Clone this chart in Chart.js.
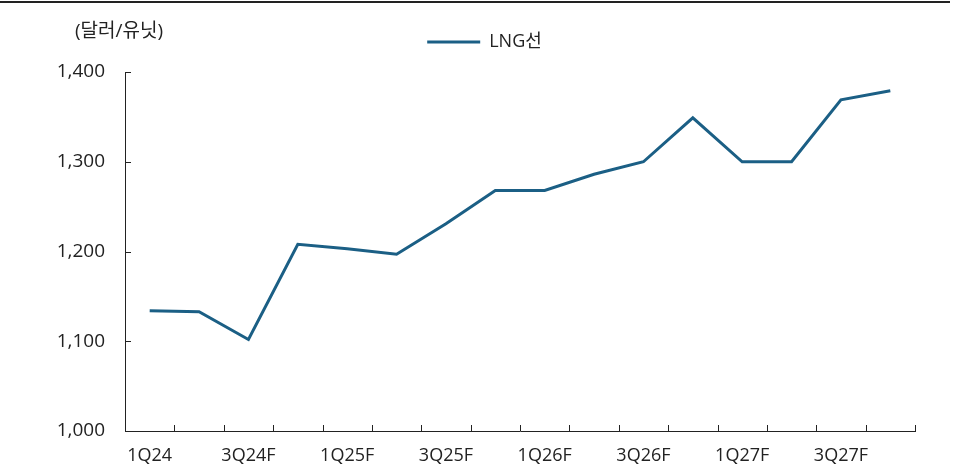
<!DOCTYPE html>
<html>
<head>
<meta charset="utf-8">
<script src="https://cdn.jsdelivr.net/npm/chart.js@4"></script>
<style>
  html, body { margin: 0; padding: 0; background: #fff; }
  #wrap { position: relative; width: 954px; height: 469px; }
  #topline { position: absolute; left: 0; top: 1px; width: 950px; height: 2px; background: #222; }
  #unit { position: absolute; left: 75px; top: 15px; font: 19px "Open Sans", "Noto Sans CJK KR", sans-serif; color: #222; }
  canvas { display: block; }
</style>
</head>
<body>
<div id="wrap">
  <div id="topline"></div>
  <div id="unit">(달러/유닛)</div>
  <canvas id="lngChart" width="954" height="469"></canvas>
</div>
<script>
const quarters = ["1Q24", "2Q24", "3Q24F", "4Q24F", "1Q25F", "2Q25F", "3Q25F", "4Q25F",
                  "1Q26F", "2Q26F", "3Q26F", "4Q26F", "1Q27F", "2Q27F", "3Q27F", "4Q27F"];
const lngValues = [1134, 1133, 1102, 1208, 1203, 1197, 1231, 1268,
                   1268, 1286, 1300, 1349, 1300, 1300, 1369, 1379];
const yTicks = [1000, 1100, 1200, 1300, 1400];

const lineColor = "#1b5f85";
const axisColor = "#222";
const fontFamily = "'Open Sans', 'Noto Sans CJK KR', sans-serif";

// small inward tick marks like the original
const innerTicks = {
  id: "innerTicks",
  afterDraw(chart) {
    const { ctx, chartArea } = chart;
    const y = chart.scales.y;
    ctx.save();
    ctx.strokeStyle = axisColor;
    ctx.lineWidth = 1;
    ctx.beginPath();
    const step = (chartArea.right - chartArea.left) / quarters.length;
    for (let i = 1; i <= quarters.length; i++) {
      const px = Math.round(chartArea.left + i * step) + 0.5;
      ctx.moveTo(px, chartArea.bottom);
      ctx.lineTo(px, chartArea.bottom - 6);
    }
    yTicks.forEach(v => {
      const py = Math.round(y.getPixelForValue(v)) + 0.5;
      ctx.moveTo(chartArea.left, py);
      ctx.lineTo(chartArea.left + 6, py);
    });
    ctx.stroke();
    ctx.restore();
  }
};

// a bit more room under the legend
const legendGap = {
  id: "legendGap",
  beforeInit(chart) {
    const fit = chart.legend.fit;
    chart.legend.fit = function () {
      fit.bind(chart.legend)();
      this.height += 11;
    };
  }
};

new Chart(document.getElementById("lngChart"), {
  type: "line",
  data: {
    labels: quarters,
    datasets: [{
      label: "LNG선",
      data: lngValues,
      borderColor: lineColor,
      backgroundColor: lineColor,
      borderWidth: 3,
      pointRadius: 0,
      pointStyle: "line",
      tension: 0
    }]
  },
  options: {
    responsive: false,
    animation: false,
    layout: { padding: { left: 54, right: 39, top: 23, bottom: 4 } },
    plugins: {
      tooltip: { enabled: false },
      legend: {
        position: "top",
        labels: {
          usePointStyle: true,
          pointStyleWidth: 53,
          color: "#222",
          font: { family: fontFamily, size: 18 },
          padding: 10
        }
      }
    },
    scales: {
      x: {
        offset: true,
        grid: { display: false, drawTicks: false },
        border: { display: true, color: axisColor, width: 1 },
        afterFit: s => { s.height = 34; },
        ticks: {
          autoSkip: false,
          maxRotation: 0,
          padding: 14,
          color: "#222",
          font: { family: fontFamily, size: 18 },
          callback: (v, i) => (i % 2 === 0 ? quarters[i] : "")
        }
      },
      y: {
        min: 1000,
        max: 1400,
        grid: { display: false, drawTicks: false },
        border: { display: true, color: axisColor, width: 1 },
        afterFit: s => { s.width = 71; },
        afterBuildTicks: axis => { axis.ticks = yTicks.map(v => ({ value: v })); },
        ticks: {
          padding: 20,
          color: "#222",
          font: { family: fontFamily, size: 19 },
          callback: v => v.toLocaleString("en-US")
        }
      }
    }
  },
  plugins: [innerTicks, legendGap]
});
</script>
</body>
</html>
